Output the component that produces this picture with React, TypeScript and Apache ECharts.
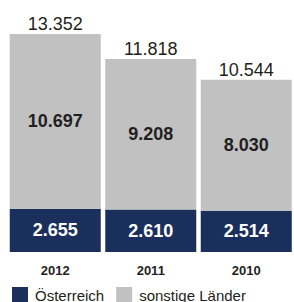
import React, { useEffect, useRef } from "react";
import * as echarts from "echarts";

const categories = ["2012", "2011", "2010"];
const oesterreich = [2655, 2610, 2514];
const sonstige = [10697, 9208, 8030];
const totals = [13352, 11818, 10544];
const seriesNames = ["Österreich", "sonstige Länder"];

const fmt = (v: number) => {
  const s = String(Math.round(v));
  return s.replace(/\B(?=(\d{3})+(?!\d))/g, ".");
};

const FONT = "'Liberation Sans', Arial, sans-serif";

export default function App() {
  const ref = useRef<HTMLDivElement>(null);
  useEffect(() => {
    if (!ref.current) return;
    const chart = echarts.init(ref.current, null, { renderer: "svg" });
    chart.setOption({
      animation: false,
      backgroundColor: "#ffffff",
      textStyle: { fontFamily: FONT },
      grid: { left: 7.5, width: 294, top: 34, bottom: 50, containLabel: false },
      legend: {
        data: seriesNames,
        left: 12,
        top: 287,
        itemWidth: 16,
        itemHeight: 16,
        itemGap: 12,
        icon: "rect",
        padding: 0,
        textStyle: { fontSize: 15, color: "#231f20", fontFamily: FONT, padding: [0, 0, 0, 2] },
        selectedMode: false,
      },
      xAxis: {
        type: "category",
        data: categories,
        axisLine: { show: false },
        axisTick: { show: false },
        axisLabel: {
          fontSize: 13,
          fontWeight: "bold",
          color: "#231f20",
          margin: 12,
          fontFamily: FONT,
        },
      },
      yAxis: { type: "value", min: 0, max: totals[0], show: false },
      series: [
        {
          name: seriesNames[0],
          type: "bar",
          stack: "a",
          barWidth: 91,
          data: oesterreich,
          itemStyle: { color: "#1b2f5c" },
          label: {
            show: true,
            position: "inside",
            formatter: (p: any) => fmt(p.value),
            color: "#ffffff",
            fontSize: 18,
            fontWeight: "bold",
            fontFamily: FONT,
          },
        },
        {
          name: seriesNames[1],
          type: "bar",
          stack: "a",
          barWidth: 91,
          data: sonstige,
          itemStyle: { color: "#c0c1c0" },
          label: {
            show: true,
            position: "inside",
            formatter: (p: any) => fmt(p.value),
            color: "#231f20",
            fontSize: 18,
            fontWeight: "bold",
            fontFamily: FONT,
          },
        },
        {
          name: "Gesamt",
          type: "bar",
          stack: "a",
          barWidth: 91,
          data: totals.map(() => 0),
          itemStyle: { color: "transparent" },
          label: {
            show: true,
            position: "top",
            distance: 1,
            formatter: (p: any) => fmt(totals[p.dataIndex]),
            color: "#231f20",
            fontSize: 18,
            fontFamily: FONT,
          },
        },
      ],
    });
    return () => chart.dispose();
  }, []);
  return (
    <div
      ref={ref}
      style={{ position: "fixed", left: 0, top: 0, width: 294, height: 302 }}
    />
  );
}
